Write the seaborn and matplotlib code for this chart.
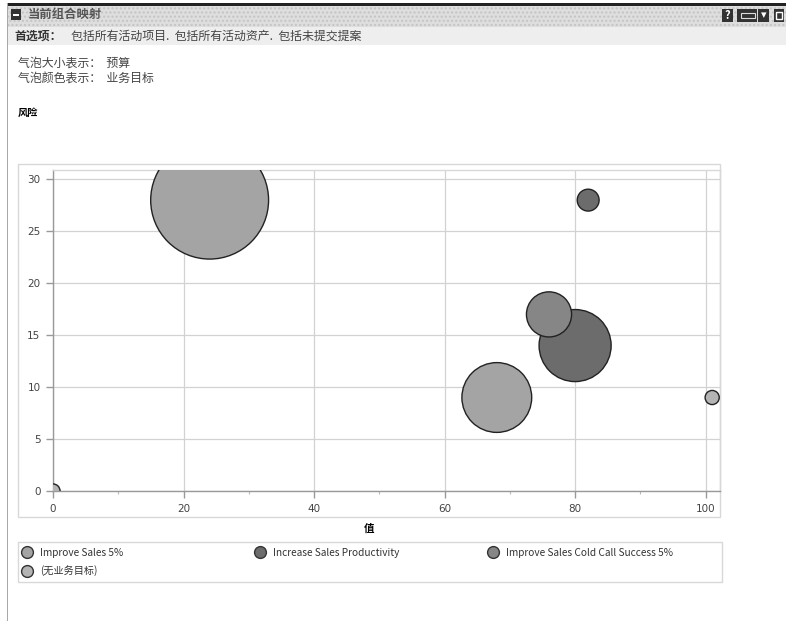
import matplotlib
matplotlib.use("Agg")
import matplotlib.pyplot as plt
from matplotlib.lines import Line2D
from matplotlib.patches import Rectangle
import seaborn as sns
import pandas as pd

# данные с картинки
values = [24, 68, 80, 82, 76, 101, 0]
risks = [28, 9, 14, 28, 17, 9, 0]
budgets = [348, 122, 130, 12, 51, 5, 5]
goals = ["Improve Sales 5%", "Improve Sales 5%", "Increase Sales Productivity",
         "Increase Sales Productivity", "Improve Sales Cold Call Success 5%",
         "(无业务目标)", "(无业务目标)"]

goal_names = ["Improve Sales 5%", "Increase Sales Productivity",
              "Improve Sales Cold Call Success 5%", "(无业务目标)"]
goal_colors = ["#a4a4a4", "#6c6c6c", "#868686", "#b4b4b4"]

x_ticks = [0, 20, 40, 60, 80, 100]
y_ticks = [0, 5, 10, 15, 20, 25, 30]

W, H = 786, 621
TEXT = "#444444"

sns.set_theme(style="white")
plt.rcParams["font.family"] = ["Noto Sans CJK SC", "DejaVu Sans"]


def fx(px):
    return px / W


def fy(py):
    return 1 - py / H


def box(x0, y0, x1, y1, **kw):
    fig.add_artist(Rectangle((fx(x0), fy(y1)), (x1 - x0) / W, (y1 - y0) / H,
                             transform=fig.transFigure, **kw))


fig = plt.figure(figsize=(W / 100, H / 100), dpi=100)

# шапка страницы
box(7, 3, W, 6, facecolor="#222222", edgecolor="none")
box(7, 6, W, 27, facecolor="#dedede", edgecolor="#c4c4c4", hatch="....", linewidth=0)
box(7, 27, W, 45, facecolor="#eeeeee", edgecolor="none")
box(7, 3, 8, 621, facecolor="#a8a8a8", edgecolor="none")

box(11, 9, 21, 20, facecolor="#333333", edgecolor="none")
box(13, 14, 19, 15.5, facecolor="white", edgecolor="none")
fig.text(fx(28), fy(14.5), "当前组合映射", fontsize=8.9, fontweight="bold", color="#555555", va="center")
fig.text(fx(14), fy(36), "首选项：", fontsize=8.6, fontweight="bold", color="#333333", va="center")
fig.text(fx(71), fy(36), "包括所有活动项目.  包括所有活动资产.  包括未提交提案", fontsize=8.6,
         color="#444444", va="center")
fig.text(fx(18), fy(63), "气泡大小表示：  预算", fontsize=8.6, color=TEXT, va="center")
fig.text(fx(18), fy(79), "气泡颜色表示：  业务目标", fontsize=8.6, color=TEXT, va="center")
fig.text(fx(18), fy(113), "风险", fontsize=7.4, fontweight="bold", color="black", va="center")

# кнопки справа
for x0, x1 in [(722, 733), (737, 757), (758, 769), (774, 784)]:
    box(x0, 9, x1, 22, facecolor="#333333", edgecolor="none")
fig.text(fx(727.5), fy(15.5), "?", fontsize=8, fontweight="bold", color="white", ha="center", va="center")
box(741, 13.5, 755, 18, facecolor="#333333", edgecolor="#dddddd", linewidth=0.8)
fig.text(fx(763.5), fy(15), "▾", fontsize=8, color="white", ha="center", va="center")
box(776, 12, 782, 19, facecolor="#333333", edgecolor="white", linewidth=1)

# рамка вокруг графика и легенды
box(18, 164, 720, 517, facecolor="white", edgecolor="#d8d8d8", linewidth=1)
box(18, 542, 722, 582, facecolor="white", edgecolor="#d8d8d8", linewidth=1)

ax = fig.add_axes([fx(53), fy(491), (720 - 53) / W, (491 - 170) / H])
ax.set_facecolor("none")
ax.set_zorder(2)

df = pd.DataFrame({"value": values, "risk": risks, "budget": budgets, "goal": goals})

ax.set_axisbelow(True)
ax.grid(True, color="#d2d2d2", linewidth=0.9)
sns.scatterplot(data=df, x="value", y="risk", hue="goal", size="budget",
                hue_order=goal_names, palette=dict(zip(goal_names, goal_colors)),
                sizes=(5 * 20.7, 348 * 20.7), size_norm=(5, 348),
                edgecolor="#222222", linewidth=1, alpha=1, legend=False, ax=ax, zorder=3)

ax.set_xlim(0, 102.2)
ax.set_ylim(0, 30.9)
ax.set_xticks(x_ticks)
ax.set_yticks(y_ticks)
ax.set_xticks([10, 30, 50, 70, 90], minor=True)
ax.tick_params(axis="both", which="major", labelsize=7.5, labelcolor="#444444", color="#999999",
               length=5, width=1, left=True, bottom=True, pad=4)
ax.tick_params(axis="x", which="minor", length=2, width=0.8, color="#bbbbbb", bottom=True)
for lab in ax.get_xticklabels() + ax.get_yticklabels():
    lab.set_family("DejaVu Sans")

for side in ["top", "right"]:
    ax.spines[side].set_color("#d8d8d8")
for side in ["left", "bottom"]:
    ax.spines[side].set_color("#999999")
for spine in ax.spines.values():
    spine.set_linewidth(1)

ax.set_xlabel("")
ax.set_ylabel("")
fig.text(fx(369), fy(529), "值", fontsize=7.5, fontweight="bold", color="black", ha="center", va="center")

# легенда: отдельные записи, чтобы колонки были на равном расстоянии
legend_pos = [(19, 553), (252, 553), (485, 553), (19, 571)]
for name, color, (px, py) in zip(goal_names, goal_colors, legend_pos):
    handle = Line2D([], [], linestyle="none", marker="o", markersize=8.5, markerfacecolor=color,
                    markeredgecolor="#333333", markeredgewidth=1, label=name)
    fig.legend(handles=[handle], loc="center left", bbox_to_anchor=(fx(px), fy(py)),
               frameon=False, fontsize=7.25, labelcolor="#333333", handletextpad=0.5,
               handlelength=1.6, borderpad=0, borderaxespad=0)

fig.savefig("out.png", dpi=100)
